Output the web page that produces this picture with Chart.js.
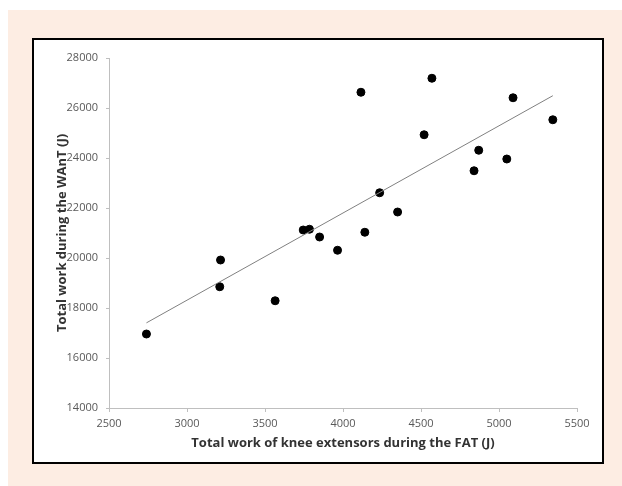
<!DOCTYPE html>
<html>
<head>
<meta charset="utf-8">
<script src="https://cdn.jsdelivr.net/npm/chart.js@4"></script>
<style>
  body { margin: 0; background: #ffffff; }
  #bg { position: absolute; left: 8px; top: 10px; width: 614px; height: 476px; background: #fdede3; }
  #box { position: absolute; left: 32px; top: 38px; width: 568px; height: 422px; border: 2px solid #000; background: #fff; }
  #chart-container { position: relative; width: 568px; height: 422px; }
</style>
</head>
<body>
<div id="bg"></div>
<div id="box">
  <div id="chart-container"><canvas id="myChart"></canvas></div>
</div>
<script>
// Total work of knee extensors during the FAT (J)
const fatWork = [2740, 3215, 3210, 3565, 3745, 3785, 3850, 3965, 4115, 4140, 4235, 4350, 4520, 4570, 4840, 4870, 5050, 5090, 5345];
// Total work during the WAnT (J)
const wantWork = [16960, 19920, 18850, 18290, 21120, 21150, 20840, 20310, 26630, 21030, 22610, 21840, 24930, 27190, 23490, 24310, 23960, 26410, 25530];

const xTitle = 'Total work of knee extensors during the FAT (J)';
const yTitle = 'Total work during the WAnT (J)';

// least squares trend line from the points
function trendLine(xs, ys) {
    const n = xs.length;
    let mx = 0, my = 0;
    for (let i = 0; i < n; i++) { mx += xs[i]; my += ys[i]; }
    mx /= n; my /= n;
    let sxy = 0, sxx = 0;
    for (let i = 0; i < n; i++) {
        sxy += (xs[i] - mx) * (ys[i] - my);
        sxx += (xs[i] - mx) * (xs[i] - mx);
    }
    const slope = sxy / sxx;
    const x0 = Math.min(...xs), x1 = Math.max(...xs);
    return [
        { x: x0, y: my + slope * (x0 - mx) },
        { x: x1, y: my + slope * (x1 - mx) }
    ];
}

const points = fatWork.map((x, i) => ({ x: x, y: wantWork[i] }));
const axisColor = '#bfbfbf';
const tickFont = { family: 'Open Sans', size: 11 };
const titleFont = { family: 'Open Sans', size: 13, weight: 'bold' };
const plain = (v) => String(v);  // no thousands separator

const ctx = document.getElementById('myChart').getContext('2d');
const chart = new Chart(ctx, {
    type: 'scatter',
    data: {
        datasets: [
            {
                data: trendLine(fatWork, wantWork),
                showLine: true,
                borderColor: '#808080',
                borderWidth: 1,
                pointRadius: 0
            },
            {
                data: points,
                backgroundColor: '#000',
                borderColor: '#000',
                pointRadius: 4
            }
        ]
    },
    options: {
        responsive: true,
        maintainAspectRatio: false,
        animation: false,
        layout: { padding: { top: 18, right: 25, left: 0, bottom: 0 } },
        plugins: {
            legend: { display: false },
            tooltip: { enabled: false }
        },
        scales: {
            x: {
                type: 'linear',
                min: 2500,
                max: 5500,
                afterFit: (s) => { s.height = 54; },
                ticks: { stepSize: 500, color: '#595959', font: tickFont, padding: 5, callback: plain },
                grid: { drawOnChartArea: false, color: axisColor, tickLength: 4 },
                border: { color: axisColor },
                title: { display: true, text: xTitle, color: '#333', font: titleFont, padding: { top: 4, bottom: 11 } }
            },
            y: {
                type: 'linear',
                min: 14000,
                max: 28000,
                afterFit: (s) => { s.width = 75; },
                ticks: { stepSize: 2000, color: '#595959', font: tickFont, padding: 8, callback: plain },
                grid: { drawOnChartArea: false, color: axisColor, tickLength: 3 },
                border: { color: axisColor },
                title: { display: true, text: yTitle, color: '#333', font: titleFont, padding: { top: 20, bottom: 4 } }
            }
        }
    }
});
</script>
</body>
</html>
